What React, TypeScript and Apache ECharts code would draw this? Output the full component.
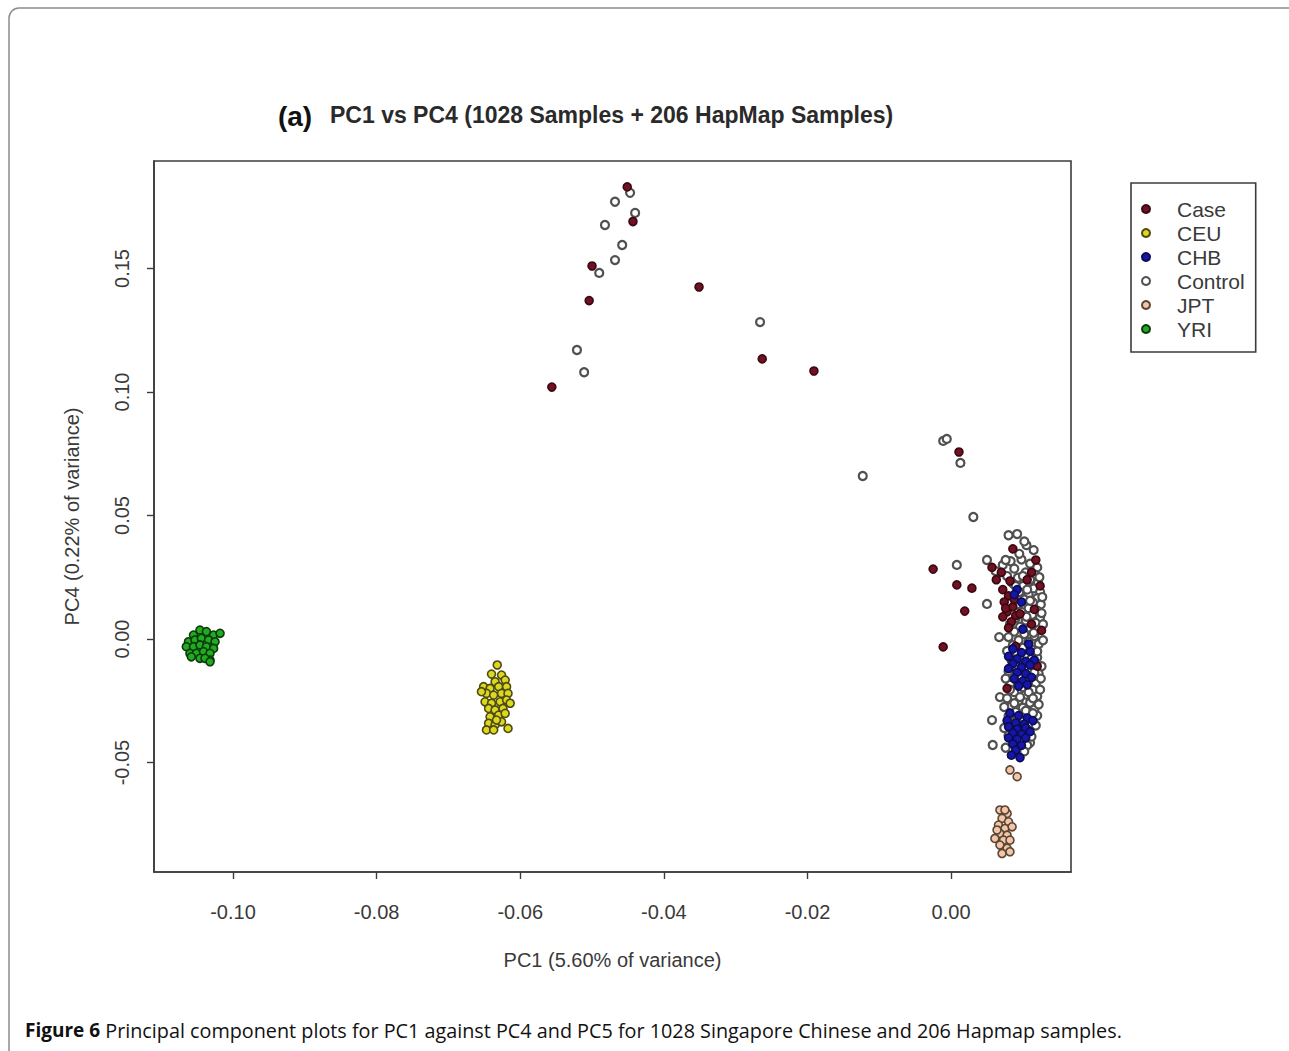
import React, { useEffect, useRef } from "react";
import * as echarts from "echarts";

const titleTag = "(a)";
const titleText = "PC1 vs PC4 (1028 Samples + 206 HapMap Samples)";
const xAxisName = "PC1 (5.60% of variance)";
const yAxisName = "PC4 (0.22% of variance)";
const captionBold = "Figure 6";
const captionText = " Principal component plots for PC1 against PC4 and PC5 for 1028 Singapore Chinese and 206 Hapmap samples.";
const legendNames = ["Case", "CEU", "CHB", "Control", "JPT", "YRI"];
const xTicks = [-0.1, -0.08, -0.06, -0.04, -0.02, 0.0];
const yTicks = [-0.05, 0.0, 0.05, 0.1, 0.15];

const caseData = [
  [-0.0451, 0.183], [-0.0443, 0.169], [-0.05, 0.151], [-0.0504, 0.137], [-0.0351, 0.1425],
  [-0.0556, 0.102], [-0.0263, 0.1134], [-0.0191, 0.1085], [0.0011, 0.0757],
  [-0.0025, 0.0283], [0.0057, 0.029], [0.0063, 0.024], [0.0008, 0.0219], [0.0029, 0.0206],
  [0.0019, 0.0113], [-0.0011, -0.0032],
  [0.0086, 0.0365], [0.007, 0.027], [0.0082, 0.0235], [0.0072, 0.02], [0.008, 0.0175],
  [0.0074, 0.015], [0.0086, 0.013], [0.0078, 0.011], [0.009, 0.0095], [0.0072, 0.009],
  [0.0084, 0.007], [0.0096, 0.0102], [0.008, 0.0045], [0.0118, 0.032], [0.0112, 0.027],
  [0.0124, 0.0215], [0.0116, 0.012], [0.0126, 0.0035], [0.0112, 0.006], [0.009, -0.003],
  [0.0078, -0.02], [0.012, -0.011], [0.0106, 0.024], [0.0076, 0.0125], [0.0088, 0.016],
];

const ceuData = [
  [-0.0632, -0.0105], [-0.064, -0.0142], [-0.0626, -0.0146], [-0.0635, -0.0173], [-0.0621, -0.0166],
  [-0.0651, -0.0193], [-0.0642, -0.02], [-0.063, -0.0193], [-0.0619, -0.0193], [-0.0647, -0.022],
  [-0.0637, -0.0227], [-0.0626, -0.022], [-0.0617, -0.022], [-0.0649, -0.0254], [-0.064, -0.026],
  [-0.0628, -0.0254], [-0.0619, -0.0247], [-0.0644, -0.0281], [-0.0635, -0.0287], [-0.0624, -0.0281],
  [-0.0642, -0.0315], [-0.063, -0.0308], [-0.0621, -0.0301], [-0.0644, -0.0341], [-0.0635, -0.0348],
  [-0.0626, -0.0335], [-0.0647, -0.0368], [-0.0637, -0.0368], [-0.0617, -0.0362], [-0.0633, -0.0328],
  [-0.0654, -0.0213], [-0.0614, -0.026],
];

const chbData = [
  [0.0086, -0.004], [0.0098, -0.0055], [0.011, -0.005], [0.008, -0.007], [0.0092, -0.008],
  [0.0104, -0.009], [0.0116, -0.0085], [0.0086, -0.01], [0.0098, -0.0115], [0.011, -0.0105],
  [0.008, -0.012], [0.0092, -0.0135], [0.0104, -0.014], [0.0088, -0.016], [0.01, -0.017],
  [0.0112, -0.0155], [0.0094, -0.019], [0.0106, -0.0185],
  [0.0082, -0.03], [0.0094, -0.031], [0.0106, -0.032], [0.0078, -0.033], [0.009, -0.034],
  [0.0102, -0.0345], [0.0114, -0.033], [0.008, -0.0355], [0.0092, -0.0365], [0.0104, -0.036],
  [0.0086, -0.038], [0.0098, -0.0385], [0.011, -0.0375], [0.008, -0.04], [0.0092, -0.0405],
  [0.0104, -0.04], [0.0086, -0.0425], [0.0098, -0.043], [0.009, -0.045], [0.0084, -0.047],
  [0.0096, -0.048], [0.0092, 0.02], [0.0088, 0.018], [0.0098, 0.015], [0.01, 0.004], [0.0108, -0.002],
];

const controlData = [
  [-0.0447, 0.1806], [-0.0468, 0.177], [-0.044, 0.1725], [-0.0482, 0.1676], [-0.0458, 0.1595],
  [-0.0468, 0.1534], [-0.049, 0.1482], [-0.0521, 0.117], [-0.0511, 0.108], [-0.0266, 0.1283],
  [-0.0011, 0.0802], [-0.0006, 0.081], [0.0013, 0.0713], [-0.0123, 0.066], [0.0031, 0.0494],
  [0.0008, 0.03], [0.005, 0.032], [0.005, 0.0142], [0.0067, 0.0008], [0.0068, -0.0235],
  [0.0057, -0.0328], [0.0058, -0.0429],
  [0.008, 0.042], [0.0092, 0.0425], [0.0105, 0.038], [0.0072, 0.03], [0.0083, 0.0315],
  [0.0098, 0.0322], [0.011, 0.0305], [0.012, 0.029], [0.0088, 0.0285], [0.0104, 0.027],
  [0.0116, 0.0262], [0.0078, 0.0255], [0.0093, 0.0248], [0.011, 0.024], [0.0121, 0.0228],
  [0.0086, 0.0225], [0.01, 0.0215], [0.0115, 0.0205], [0.0124, 0.019], [0.0095, 0.019],
  [0.0108, 0.018], [0.012, 0.0165], [0.0102, 0.016], [0.0114, 0.0148], [0.0125, 0.014],
  [0.0092, 0.014], [0.0108, 0.0125], [0.012, 0.0115], [0.0098, 0.011], [0.0113, 0.0098],
  [0.0124, 0.0088], [0.009, 0.0085], [0.0104, 0.0075], [0.0118, 0.0065], [0.0082, 0.006],
  [0.0096, 0.005], [0.011, 0.0045], [0.0122, 0.0038], [0.0088, 0.003], [0.0102, 0.002],
  [0.0116, 0.0012], [0.008, 0.0008], [0.0094, -0.0005], [0.0108, -0.0012], [0.0122, -0.002],
  [0.0086, -0.0025], [0.01, -0.0035], [0.0114, -0.0045], [0.0078, -0.0048], [0.0092, -0.006],
  [0.0106, -0.007], [0.012, -0.0075], [0.0084, -0.0085], [0.0118, -0.01], [0.0098, -0.011],
  [0.0112, -0.0125], [0.008, -0.013], [0.0122, -0.014], [0.0094, -0.015], [0.0108, -0.0165],
  [0.0118, -0.018], [0.0082, -0.0185], [0.01, -0.0195], [0.0114, -0.0205], [0.0088, -0.0215],
  [0.0104, -0.0225], [0.012, -0.0232], [0.0078, -0.024], [0.0094, -0.025], [0.011, -0.0258],
  [0.0084, -0.027], [0.01, -0.0278], [0.0116, -0.0285], [0.009, -0.0295], [0.0106, -0.0305],
  [0.008, -0.0312], [0.0096, -0.033], [0.0112, -0.034], [0.0086, -0.0355], [0.0104, -0.037],
  [0.008, -0.039], [0.0098, -0.041], [0.0076, -0.044], [0.0092, -0.0445], [0.011, -0.042],
  [0.0102, 0.0395], [0.0115, 0.036], [0.0095, 0.0345], [0.0123, 0.025], [0.0106, 0.02],
  [0.0127, 0.017], [0.011, 0.0155], [0.0126, 0.0105], [0.0105, 0.009], [0.0128, 0.006],
  [0.0115, 0.0025], [0.0128, -0.0005], [0.012, -0.005], [0.0126, -0.011], [0.0112, -0.008],
  [0.0125, -0.016], [0.0116, -0.0135], [0.0108, -0.0215], [0.0124, -0.0205], [0.0096, -0.0235],
  [0.0114, -0.024], [0.0122, -0.0265], [0.0088, -0.026], [0.0104, -0.029], [0.012, -0.031],
  [0.0074, -0.0275], [0.0092, -0.0318], [0.0114, -0.03], [0.01, -0.032], [0.0118, -0.035],
  [0.0112, -0.0395], [0.0106, -0.043], [0.0102, -0.0455], [0.0088, -0.0395], [0.0074, -0.036],
  [0.0082, -0.0205], [0.009, -0.011], [0.0076, -0.016], [0.01, 0.0255], [0.009, 0.0215],
  [0.0076, 0.032], [0.0062, 0.0275],
];

const jptData = [
  [0.0068, -0.0692], [0.0078, -0.0706], [0.0071, -0.0726], [0.008, -0.074], [0.0066, -0.0753],
  [0.0075, -0.0767], [0.0085, -0.076], [0.0068, -0.0787], [0.0078, -0.0794], [0.0061, -0.0807],
  [0.0073, -0.0814], [0.0082, -0.0814], [0.0068, -0.0834], [0.0078, -0.0847], [0.0071, -0.0868],
  [0.0082, -0.0861], [0.0064, -0.0773], [0.0075, -0.0692], [0.0082, -0.053], [0.0092, -0.0557],
];

const yriData = [
  [-0.1055, 0.0016], [-0.1046, 0.0036], [-0.1037, 0.003], [-0.1027, 0.0016], [-0.1018, 0.0023],
  [-0.1062, -0.0011], [-0.1053, -0.0004], [-0.1044, 0.0003], [-0.1034, -0.0004], [-0.1025, -0.0011],
  [-0.1065, -0.0031], [-0.1055, -0.0031], [-0.1046, -0.0024], [-0.1037, -0.0031], [-0.1027, -0.0038],
  [-0.106, -0.0058], [-0.1051, -0.0058], [-0.1041, -0.0051], [-0.1032, -0.0058], [-0.1058, -0.0072],
  [-0.1046, -0.0078], [-0.1032, -0.0085], [-0.1039, -0.0078], [-0.1032, -0.0092],
];

const FONT = "'Liberation Sans', Arial, sans-serif";

function mk(name: string, data: number[][], fill: string, stroke: string, size = 8, bw = 1.6) {
  return {
    name,
    type: "scatter",
    data,
    symbol: "circle",
    symbolSize: size,
    itemStyle: { color: fill, borderColor: stroke, borderWidth: bw, opacity: 1 },
    emphasis: { disabled: true },
  };
}

export default function App() {
  const ref = useRef<HTMLDivElement>(null);
  useEffect(() => {
    if (!ref.current) return;
    const chart = echarts.init(ref.current, null, { renderer: "svg" });
    chart.setOption({
      animation: false,
      backgroundColor: "#ffffff",
      grid: {
        left: 154, top: 161, width: 917, height: 711,
        show: true, borderColor: "#3c3c3c", borderWidth: 1.6, backgroundColor: "#fff",
      },
      xAxis: {
        type: "value",
        min: -0.111, max: 0.0167,
        name: xAxisName, nameLocation: "middle", nameGap: 78,
        nameTextStyle: { fontFamily: FONT, fontSize: 20, color: "#3a3a3a" },
        axisLine: { show: true, onZero: false, lineStyle: { color: "#3c3c3c", width: 1.6 } },
        axisTick: { show: true, length: 7, customValues: xTicks, lineStyle: { color: "#3c3c3c", width: 1.4 } },
        axisLabel: {
          customValues: xTicks, margin: 30, fontFamily: FONT, fontSize: 20, color: "#3a3a3a",
          formatter: (v: number) => v.toFixed(2),
        },
        splitLine: { show: false },
      },
      yAxis: {
        type: "value",
        min: -0.0943, max: 0.1935,
        name: yAxisName, nameLocation: "middle", nameGap: 72,
        nameTextStyle: { fontFamily: FONT, fontSize: 20, color: "#3a3a3a" },
        axisLine: { show: true, onZero: false, lineStyle: { color: "#3c3c3c", width: 1.6 } },
        axisTick: { show: true, length: 7, customValues: yTicks, lineStyle: { color: "#3c3c3c", width: 1.4 } },
        axisLabel: {
          customValues: yTicks, rotate: 90, margin: 22, fontFamily: FONT, fontSize: 20, color: "#3a3a3a",
          formatter: (v: number) => v.toFixed(2),
        },
        splitLine: { show: false },
      },
      legend: {
        data: legendNames,
        orient: "vertical",
        left: 1131, top: 183,
        padding: [14, 11, 11, 10],
        itemGap: 0,
        itemWidth: 16, itemHeight: 8,
        icon: "circle",
        borderColor: "#3c3c3c", borderWidth: 1.6, backgroundColor: "#fff",
        textStyle: { fontFamily: FONT, fontSize: 21, color: "#3a3a3a", lineHeight: 24, padding: [0, 0, 0, 18] },
        selectedMode: false,
      },
      series: [
        mk("Control", controlData, "#ffffff", "#505050", 8, 2.2),
        mk("Case", caseData, "#701224", "#3a0810"),
        mk("CHB", chbData, "#1616aa", "#0c0c55"),
        mk("CEU", ceuData, "#dcd820", "#4e4a10"),
        mk("JPT", jptData, "#f2c6a6", "#5a4636"),
        mk("YRI", yriData, "#22aa22", "#0a3c0a"),
      ],
      graphic: [
        {
          type: "rect", silent: true, z: -10,
          shape: { x: 9, y: 8, width: 1300, height: 1100, r: 10 },
          style: { fill: "none", stroke: "#8c8c8c", lineWidth: 1.5 },
        },
        {
          type: "text", x: 295, y: 116,
          style: {
            text: titleTag, font: `bold 28px ${FONT}`, fill: "#111",
            textAlign: "center", textVerticalAlign: "middle",
          },
        },
        {
          type: "text", x: 330, y: 115,
          style: {
            text: titleText, font: `bold 23px ${FONT}`, fill: "#2a2a2a",
            textAlign: "left", textVerticalAlign: "middle",
          },
        },
        {
          type: "text", x: 25, y: 1030,
          style: {
            text: `{b|${captionBold}}{r|${captionText}}`,
            textVerticalAlign: "middle",
            rich: {
              b: { fontFamily: "'Open Sans', sans-serif", fontWeight: "bold", fontSize: 19, fill: "#111" },
              r: { fontFamily: "'Open Sans', sans-serif", fontSize: 19.8, fill: "#111" },
            },
          },
        },
      ],
    });
    return () => chart.dispose();
  }, []);
  return (
    <div
      ref={ref}
      style={{ position: "absolute", left: 0, top: 0, width: 1289, height: 1051, background: "#fff" }}
    />
  );
}
